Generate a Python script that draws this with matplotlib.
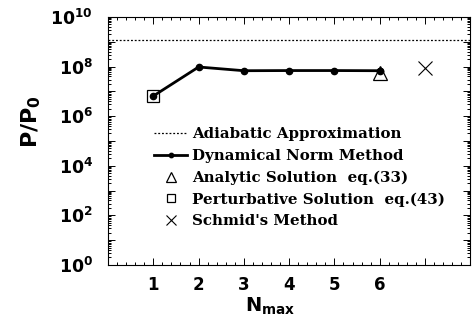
import numpy as np
import matplotlib.pyplot as plt
from matplotlib.ticker import MultipleLocator, FixedLocator, LogLocator, NullFormatter

plt.rcParams['font.family'] = ['DejaVu Sans']
plt.rcParams['font.weight'] = 'bold'
plt.rcParams['mathtext.fontset'] = 'custom'
plt.rcParams['mathtext.rm'] = 'DejaVu Sans:bold'
plt.rcParams['mathtext.bf'] = 'DejaVu Sans:bold'
plt.rcParams['mathtext.it'] = 'DejaVu Sans:bold'

# P/P0 versus truncation order
n_max = [1, 2, 3, 4, 5, 6]
p_dynamical = [6.5e6, 9.6e7, 6.8e7, 6.9e7, 6.9e7, 6.8e7]
p_adiabatic = 1.2e9
n_analytic, p_analytic = [6], [5.3e7]
n_perturb, p_perturb = [1], [6.5e6]
n_schmid, p_schmid = [7], [8.5e7]

fig = plt.figure(figsize=(4.74, 3.2), dpi=100)
ax = fig.add_axes([0.228, 0.172, 0.764, 0.775])

ax.axhline(p_adiabatic, color='k', ls=(0, (1.5, 1.5)), lw=0.9, label='Adiabatic Approximation')
ax.plot(n_max, p_dynamical, '-o', color='k', lw=2.0, ms=4.5, label='Dynamical Norm Method')
ax.plot(n_analytic, p_analytic, '^', mfc='white', mec='k', mew=0.9, ms=10,
        label='Analytic Solution  eq.(33)')
ax.plot(n_perturb, p_perturb, 's', mfc='none', mec='k', mew=0.9, ms=9,
        label='Perturbative Solution  eq.(43)')
ax.plot(n_schmid, p_schmid, 'x', color='k', mew=0.8, ms=10, label="Schmid's Method")
# redraw the point on top of the triangle
ax.plot(n_max[-1:], p_dynamical[-1:], 'o', color='k', ms=4.5)

ax.set_yscale('log')
ax.set_xlim(0, 8)
ax.set_ylim(1, 1e10)

ax.xaxis.set_major_locator(FixedLocator(range(0, 9)))
ax.set_xticklabels(['', '1', '2', '3', '4', '5', '6', '', ''])
ax.xaxis.set_minor_locator(MultipleLocator(0.2))

ax.yaxis.set_major_locator(FixedLocator([10.0 ** k for k in range(0, 11)]))
ax.set_yticklabels([r'$10^{%d}$' % k if k % 2 == 0 else '' for k in range(0, 11)])
ax.yaxis.set_minor_locator(LogLocator(base=10, subs=np.arange(2, 10), numticks=20))
ax.yaxis.set_minor_formatter(NullFormatter())

ax.tick_params(which='both', direction='in', top=True, right=True, width=0.7)
ax.tick_params(which='major', length=5)
ax.tick_params(which='minor', length=2.5)
ax.tick_params(axis='y', labelsize=12.5, pad=11)
ax.tick_params(axis='x', labelsize=12, pad=8)
for s in ax.spines.values():
    s.set_linewidth(0.8)

ax.set_ylabel(r'$P/P_0$', fontsize=16)
ax.yaxis.set_label_coords(-0.18, 0.577)
ax.set_xlabel(r'$N_{max}$', fontsize=14)
ax.xaxis.set_label_coords(0.447, -0.123)

leg = ax.legend(loc='upper left', bbox_to_anchor=(0.107, 0.585), frameon=False,
                prop={'family': 'DejaVu Serif', 'weight': 'bold', 'size': 10.8},
                handlelength=2.2, handletextpad=0.3, labelspacing=0.5, markerscale=0.7,
                borderpad=0)

fig.savefig('out.png', dpi=100)
